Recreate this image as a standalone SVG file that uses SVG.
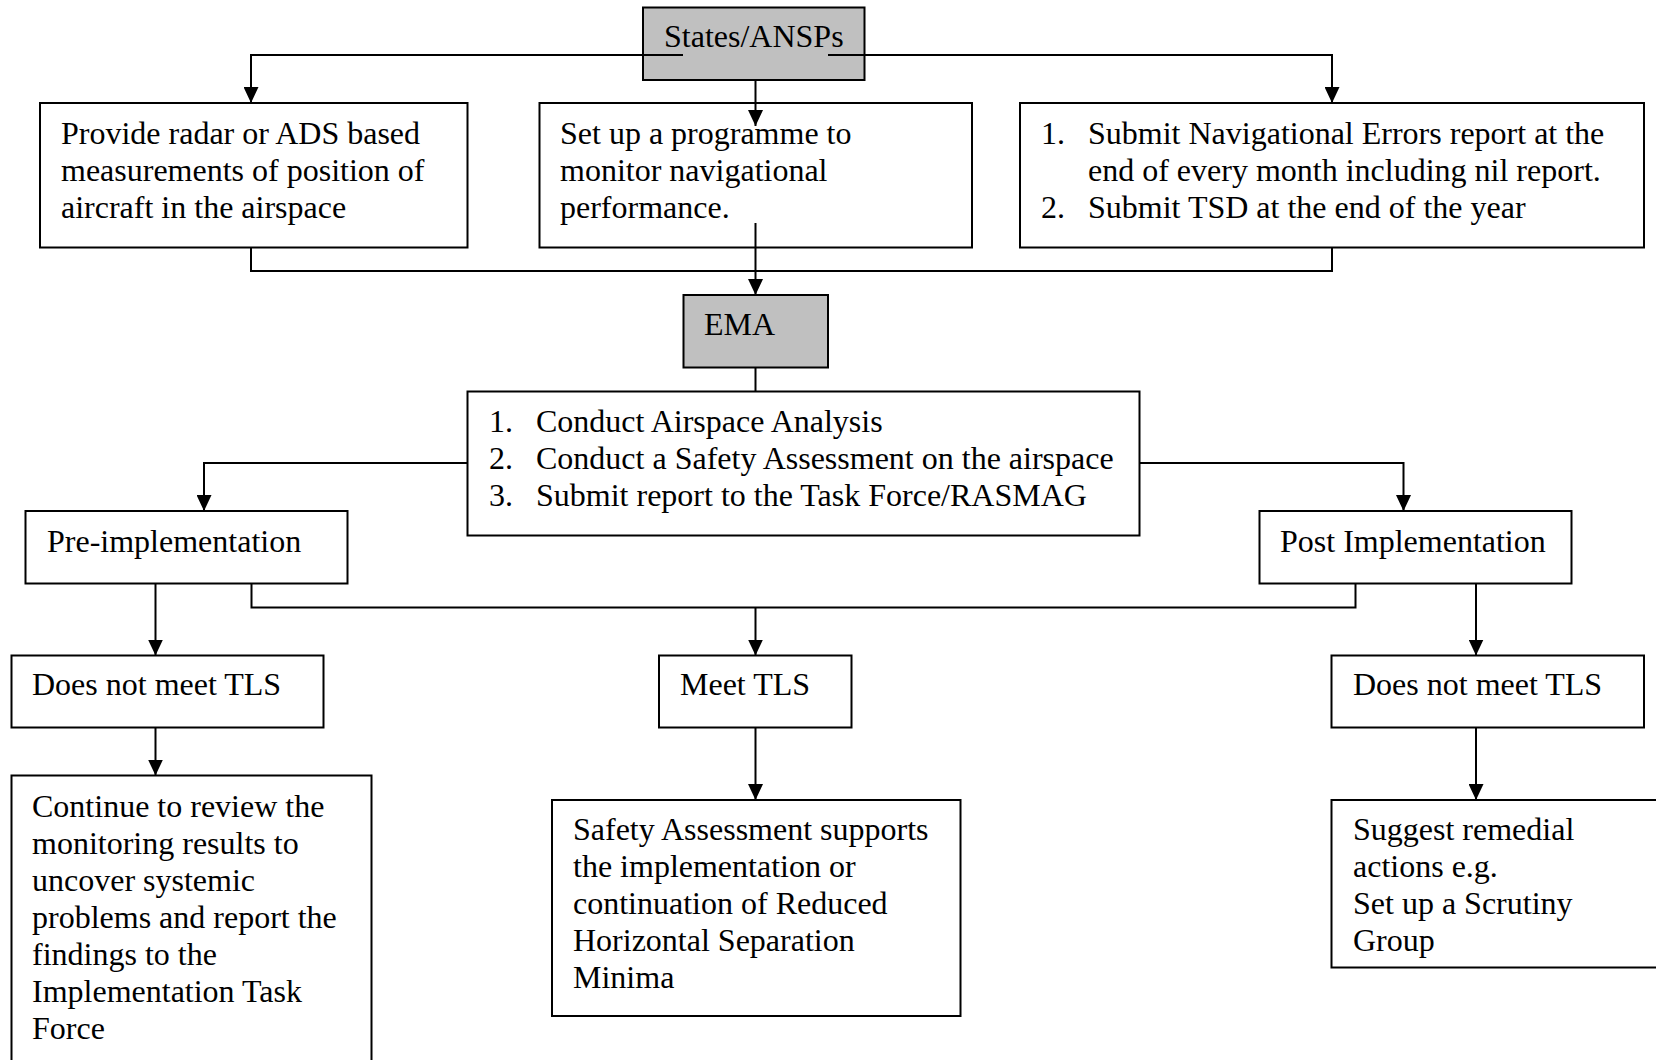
<svg xmlns="http://www.w3.org/2000/svg" width="1656" height="1060" viewBox="0 0 1656 1060">
<style>
.box{fill:#fff;stroke:#000;stroke-width:2}
.grey{fill:#c0c0c0;stroke:#000;stroke-width:2}
.t{font-family:"Liberation Serif","Times New Roman",serif;font-size:32px;fill:#000}
.c{fill:none;stroke:#000;stroke-width:2}
</style>
<defs>
<marker id="ah" markerUnits="userSpaceOnUse" markerWidth="16" markerHeight="15" refX="16" refY="7.5" orient="auto">
<path d="M0,0 L16,7.5 L0,15 z" fill="#000"/>
</marker>
</defs>
<rect width="1656" height="1060" fill="#fff"/>
<g id="states"><rect class="grey" x="643" y="7.5" width="221.5" height="72.5"/><text class="t" x="664" y="47">States/ANSPs</text></g>
<g id="provide"><rect class="box" x="40" y="103" width="427.5" height="144.5"/>
<text class="t" x="61" y="144">Provide radar or ADS based</text>
<text class="t" x="61" y="181">measurements of position of</text>
<text class="t" x="61" y="218">aircraft in the airspace</text></g>
<g id="setup"><rect class="box" x="539.5" y="103" width="432.5" height="144.5"/>
<text class="t" x="560" y="144">Set up a programme to</text>
<text class="t" x="560" y="181">monitor navigational</text>
<text class="t" x="560" y="218">performance.</text></g>
<g id="submit"><rect class="box" x="1020" y="103" width="624" height="144.5"/>
<text class="t" x="1041" y="144">1.</text><text class="t" x="1088" y="144">Submit Navigational Errors report at the</text>
<text class="t" x="1088" y="181">end of every month including nil report.</text>
<text class="t" x="1041" y="218">2.</text><text class="t" x="1088" y="218">Submit TSD at the end of the year</text></g>
<g id="ema"><rect class="grey" x="683.5" y="295" width="144.5" height="72.5"/><text class="t" x="704" y="335">EMA</text></g>
<g id="analysis"><rect class="box" x="467.5" y="391.5" width="672" height="144"/>
<text class="t" x="489" y="432">1.</text><text class="t" x="536" y="432">Conduct Airspace Analysis</text>
<text class="t" x="489" y="469">2.</text><text class="t" x="536" y="469">Conduct a Safety Assessment on the airspace</text>
<text class="t" x="489" y="506">3.</text><text class="t" x="536" y="506">Submit report to the Task Force/RASMAG</text></g>
<g id="pre"><rect class="box" x="25.5" y="511" width="322" height="72.5"/><text class="t" x="47" y="552">Pre-implementation</text></g>
<g id="post"><rect class="box" x="1259.5" y="511" width="312" height="72.5"/><text class="t" x="1280" y="552">Post Implementation</text></g>
<g id="dnm-left"><rect class="box" x="11.5" y="655.5" width="312" height="72"/><text class="t" x="32" y="695">Does not meet TLS</text></g>
<g id="meet"><rect class="box" x="659" y="655.5" width="192.5" height="72"/><text class="t" x="680" y="695">Meet TLS</text></g>
<g id="dnm-right"><rect class="box" x="1331.5" y="655.5" width="312.5" height="72"/><text class="t" x="1353" y="695">Does not meet TLS</text></g>
<g id="continue"><rect class="box" x="11.5" y="775.5" width="360" height="320"/>
<text class="t" x="32" y="817">Continue to review the</text>
<text class="t" x="32" y="854">monitoring results to</text>
<text class="t" x="32" y="891">uncover systemic</text>
<text class="t" x="32" y="928">problems and report the</text>
<text class="t" x="32" y="965">findings to the</text>
<text class="t" x="32" y="1002">Implementation Task</text>
<text class="t" x="32" y="1039">Force</text></g>
<g id="safety"><rect class="box" x="552" y="800" width="408.5" height="216"/>
<text class="t" x="573" y="840">Safety Assessment supports</text>
<text class="t" x="573" y="877">the implementation or</text>
<text class="t" x="573" y="914">continuation of Reduced</text>
<text class="t" x="573" y="951">Horizontal Separation</text>
<text class="t" x="573" y="988">Minima</text></g>
<g id="suggest"><rect class="box" x="1331.5" y="800" width="340" height="167.5"/>
<text class="t" x="1353" y="840">Suggest remedial</text>
<text class="t" x="1353" y="877">actions e.g.</text>
<text class="t" x="1353" y="914">Set up a Scrutiny</text>
<text class="t" x="1353" y="951">Group</text></g>
<g id="connectors">
<polyline class="c" points="683,55 251,55 251,103" marker-end="url(#ah)"/>
<polyline class="c" points="828,55 1332,55 1332,103" marker-end="url(#ah)"/>
<line class="c" x1="755.5" y1="80" x2="755.5" y2="126" marker-end="url(#ah)"/>
<line class="c" x1="755.5" y1="223" x2="755.5" y2="295" marker-end="url(#ah)"/>
<polyline class="c" points="251,247.5 251,271 1332,271 1332,247.5"/>
<line class="c" x1="755.5" y1="367.5" x2="755.5" y2="391.5"/>
<polyline class="c" points="467.5,463 204,463 204,511" marker-end="url(#ah)"/>
<polyline class="c" points="1139.5,463 1403.5,463 1403.5,511" marker-end="url(#ah)"/>
<line class="c" x1="155.5" y1="583.5" x2="155.5" y2="655.5" marker-end="url(#ah)"/>
<polyline class="c" points="251.5,583.5 251.5,607.5 1355.5,607.5 1355.5,583.5"/>
<line class="c" x1="755.5" y1="607.5" x2="755.5" y2="655.5" marker-end="url(#ah)"/>
<line class="c" x1="1476" y1="583.5" x2="1476" y2="655.5" marker-end="url(#ah)"/>
<line class="c" x1="155.5" y1="727.5" x2="155.5" y2="775.5" marker-end="url(#ah)"/>
<line class="c" x1="755.5" y1="727.5" x2="755.5" y2="800" marker-end="url(#ah)"/>
<line class="c" x1="1476" y1="727.5" x2="1476" y2="800" marker-end="url(#ah)"/>
</g>
</svg>
